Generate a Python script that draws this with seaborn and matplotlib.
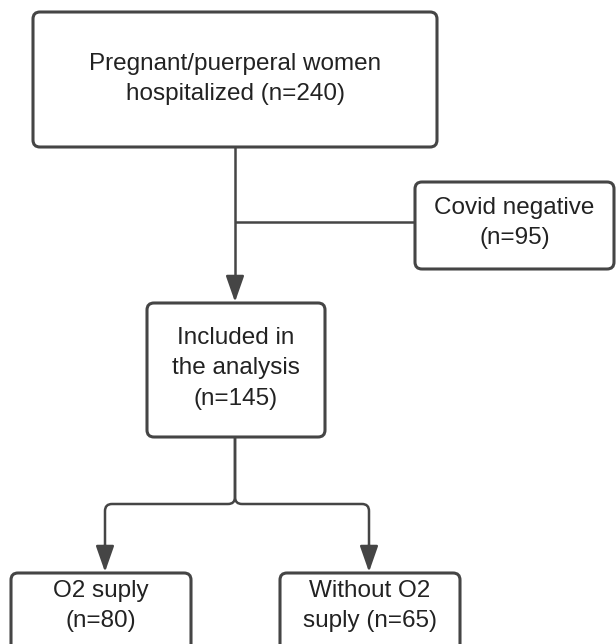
import numpy as np
import matplotlib
matplotlib.use("Agg")
import matplotlib.pyplot as plt
import seaborn as sns
from matplotlib.patches import FancyBboxPatch
from matplotlib.path import Path
from matplotlib.patches import PathPatch

sns.set_theme(style="white")
plt.rcParams['font.family'] = ['Liberation Sans', 'DejaVu Sans']

# flowchart content
labels = ["Pregnant/puerperal women\nhospitalized", "Covid negative", "Included in\nthe analysis",
          "O2 suply", "Without O2\nsuply"]
counts = [240, 95, 145, 80, 65]

# box layout in pixels (x0, y0, x1, y1)
boxes = [(33, 12, 437, 147), (415, 182, 614, 269), (147, 303, 325, 437),
         (11, 573, 191, 670), (280, 573, 460, 670)]
text_y = [79, 223, 368, 606, 606]
texts = [labels[0] + " (n=%d)" % counts[0],
         labels[1] + "\n(n=%d)" % counts[1],
         labels[2] + "\n(n=%d)" % counts[2],
         labels[3] + "\n(n=%d)" % counts[3],
         labels[4] + " (n=%d)" % counts[4]]

ec = "#454545"
fig = plt.figure(figsize=(6.16, 6.44), dpi=100)
ax = fig.add_axes([0, 0, 1, 1])
ax.set_xlim(0, 616)
ax.set_ylim(644, 0)
ax.axis("off")

for (x0, y0, x1, y1), t, ty in zip(boxes, texts, text_y):
    ax.add_patch(FancyBboxPatch((x0, y0), x1 - x0, y1 - y0,
                                boxstyle="round,pad=0,rounding_size=7",
                                fc="white", ec=ec, lw=2.2, zorder=3))
    ax.text((x0 + x1) / 2, ty, t, ha="center", va="center", fontsize=17.5,
            color="#222222", linespacing=1.5, zorder=4)

lw = 1.8
cx = 235
# main trunk and side branch
ax.plot([cx, cx], [147, 290], color=ec, lw=lw, solid_capstyle="butt")
ax.plot([cx, 415], [222, 222], color=ec, lw=lw, solid_capstyle="butt")

def arrow(x, y0, y1):
    ax.annotate("", xy=(x, y1), xytext=(x, y0),
                arrowprops=dict(arrowstyle="-|>,head_length=0.8,head_width=0.28",
                                color=ec, lw=lw, shrinkA=0, shrinkB=0,
                                mutation_scale=20))

arrow(cx, 280, 302)

# split to the two bottom boxes with rounded corners
r = 7
yb = 504
for xe in (105, 369):
    s = np.sign(xe - cx)
    verts = [(cx, 437), (cx, yb - r), (cx, yb), (cx + s * r, yb),
             (xe - s * r, yb), (xe, yb), (xe, yb + r), (xe, 555)]
    codes = [Path.MOVETO, Path.LINETO, Path.CURVE3, Path.CURVE3,
             Path.LINETO, Path.CURVE3, Path.CURVE3, Path.LINETO]
    ax.add_patch(PathPatch(Path(verts, codes), fc="none", ec=ec, lw=lw))
    arrow(xe, 545, 572)

fig.savefig("out.png", dpi=100, facecolor="white")
